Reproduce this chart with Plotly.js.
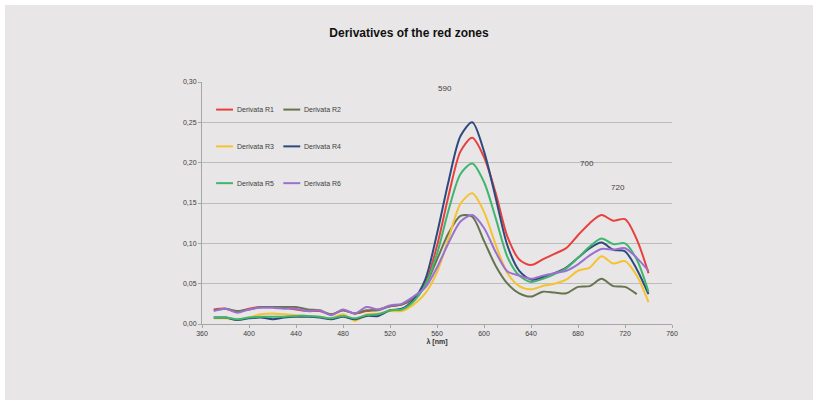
<!DOCTYPE html>
<html>
<head>
<meta charset="utf-8">
<script src="https://cdn.plot.ly/plotly-3.0.1.min.js"></script>
<style>
html,body{margin:0;padding:0;background:#ffffff;}
#frame{position:absolute;left:5px;top:5px;width:808px;height:395px;background:#e8e6e6;}
#chart{width:808px;height:395px;}
</style>
</head>
<body>
<div id="frame"><div id="chart"></div></div>
<script>
const wavelength = [370,380,390,400,410,420,430,440,450,460,470,480,490,500,510,520,530,540,550,560,570,580,590,600,610,620,630,640,650,660,670,680,690,700,710,720,730,740];

const r1 = [0.018,0.019,0.015,0.019,0.021,0.021,0.020,0.018,0.016,0.016,0.012,0.017,0.013,0.016,0.018,0.022,0.024,0.032,0.050,0.097,0.160,0.214,0.231,0.207,0.162,0.108,0.080,0.073,0.080,0.087,0.094,0.110,0.125,0.135,0.128,0.130,0.105,0.063];
const r2 = [0.017,0.019,0.016,0.018,0.021,0.021,0.021,0.021,0.018,0.017,0.012,0.017,0.013,0.017,0.017,0.022,0.024,0.032,0.048,0.080,0.113,0.134,0.133,0.103,0.072,0.050,0.038,0.034,0.040,0.039,0.038,0.046,0.047,0.056,0.047,0.046,0.037,null];
const r3 = [0.007,0.007,0.005,0.008,0.012,0.013,0.012,0.011,0.010,0.009,0.007,0.012,0.004,0.012,0.013,0.016,0.016,0.024,0.038,0.064,0.107,0.149,0.162,0.139,0.098,0.063,0.047,0.043,0.047,0.050,0.055,0.066,0.070,0.084,0.075,0.078,0.060,0.027];
const r4 = [0.008,0.008,0.005,0.007,0.008,0.006,0.008,0.009,0.009,0.008,0.006,0.009,0.006,0.010,0.010,0.017,0.019,0.030,0.055,0.112,0.178,0.233,0.250,0.214,0.156,0.097,0.066,0.055,0.058,0.063,0.070,0.082,0.094,0.101,0.092,0.090,0.068,0.037];
const r5 = [0.008,0.008,0.006,0.008,0.009,0.009,0.009,0.010,0.010,0.009,0.007,0.010,0.007,0.011,0.012,0.017,0.018,0.028,0.048,0.087,0.142,0.186,0.199,0.176,0.131,0.083,0.060,0.052,0.056,0.062,0.069,0.082,0.096,0.106,0.099,0.100,0.080,0.040];
const r6 = [0.016,0.019,0.014,0.018,0.020,0.020,0.019,0.019,0.016,0.017,0.011,0.018,0.013,0.021,0.018,0.023,0.025,0.034,0.045,0.070,0.101,0.127,0.135,0.119,0.089,0.065,0.060,0.056,0.060,0.063,0.066,0.074,0.085,0.093,0.092,0.094,0.082,0.066];

const seriesNames = ['Derivata R1','Derivata R2','Derivata R3','Derivata R4','Derivata R5','Derivata R6'];
const seriesValues = [r1,r2,r3,r4,r5,r6];
const seriesColors = ['#e8403f','#64754f','#f5c232','#2e4a7d','#3fb56e','#9b71d0'];

const peakLabels = ['590','700','720'];
const peakX = [567,688,714];
const peakY = [0.292,0.199,0.169];

const traces = seriesValues.map((vals,i)=>({
  x: wavelength, y: vals, type:'scatter', mode:'lines',
  name: seriesNames[i], showlegend:false,
  line:{color:seriesColors[i], width:2, shape:'spline', smoothing:0.8},
  connectgaps:false
}));

const font = 'Liberation Sans, Arial, sans-serif';

// hand-drawn legend: 3 rows x 2 columns, inside the plot area
const legColX = [0.030, 0.173];
const legRowY = [0.886, 0.734, 0.582];
const legLineLen = 0.036;
const shapes = [];
const annotations = peakLabels.map((t,i)=>({
  x: peakX[i], y: peakY[i], xref:'x', yref:'y', text:t, showarrow:false,
  font:{family:font, size:8, color:'#404040'}
}));
seriesNames.forEach((nm,i)=>{
  const cx = legColX[i%2], cy = legRowY[Math.floor(i/2)];
  shapes.push({type:'line', xref:'paper', yref:'paper', x0:cx, x1:cx+legLineLen, y0:cy, y1:cy,
    line:{color:seriesColors[i], width:2}});
  annotations.push({xref:'paper', yref:'paper', x:cx+legLineLen+0.004, y:cy, xanchor:'left', yanchor:'middle',
    text:nm, showarrow:false, font:{family:font, size:7, color:'#404040'}});
});

const layout = {
  width:808, height:395,
  paper_bgcolor:'rgba(0,0,0,0)', plot_bgcolor:'rgba(0,0,0,0)',
  margin:{l:197, r:141, t:77, b:76},
  title:{text:'<b>Derivatives of the red zones</b>', x:0.5, xanchor:'center', y:0.93, yanchor:'middle',
    font:{family:font, size:12, color:'#111111'}},
  separators:',.',
  xaxis:{range:[360,760], dtick:40, tick0:360, showgrid:false, zeroline:false,
    showline:true, linecolor:'#a6a6a6', linewidth:1, ticks:'outside', ticklen:3, tickcolor:'#a6a6a6',
    tickfont:{family:font, size:7, color:'#404040'},
    title:{text:'<b>λ [nm]</b>', standoff:2, font:{family:font, size:7, color:'#303030'}}},
  yaxis:{range:[0,0.30], dtick:0.05, tickformat:'.2f', showgrid:true, gridcolor:'#bdbcbc', gridwidth:1,
    zeroline:false, showline:true, linecolor:'#a6a6a6', linewidth:1, ticks:'outside', ticklen:3, tickcolor:'#a6a6a6',
    tickfont:{family:font, size:7, color:'#404040'}},
  shapes: shapes,
  annotations: annotations,
  showlegend:false
};

Plotly.newPlot('chart', traces, layout, {displayModeBar:false, staticPlot:true});
</script>
</body>
</html>
